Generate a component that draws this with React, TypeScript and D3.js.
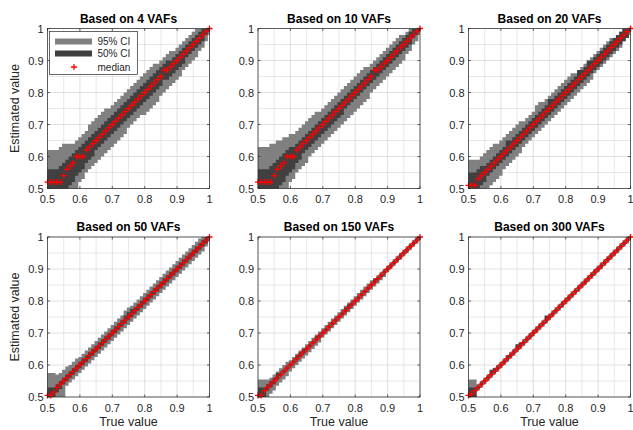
import React, { useEffect, useRef } from "react";
import * as d3 from "d3";

// all values in hundredths (50 = 0.5, 100 = 1)
const trueValues = [50, 51, 52, 53, 54, 55, 56, 57, 58, 59, 60, 61, 62, 63, 64, 65, 66, 67, 68, 69, 70, 71, 72, 73, 74, 75, 76, 77, 78, 79, 80, 81, 82, 83, 84, 85, 86, 87, 88, 89, 90, 91, 92, 93, 94, 95, 96, 97, 98, 99, 100];
const majorTicks = [50, 60, 70, 80, 90, 100];
const tickLabels = ["0.5", "0.6", "0.7", "0.8", "0.9", "1"];
const minorTicks = [55, 65, 75, 85, 95];
const titles = ["Based on 4 VAFs", "Based on 10 VAFs", "Based on 20 VAFs", "Based on 50 VAFs", "Based on 150 VAFs", "Based on 300 VAFs"];

// 4 VAFs
const med4 = [52, 52, 52, 52, 52, 54, 56, 57, 58, 60, 60, 60, 62, 63, 64, 65, 66, 67, 68, 69, 70, 71, 72, 73, 74, 75, 76, 77, 78, 79, 80, 81, 82, 83, 84, 85, 87, 87, 88, 89, 90, 91, 92, 93, 94, 95, 96, 97, 98, 99, 100];
const lo95_4 = [45, 45, 45, 45, 45, 45, 45, 45, 45, 45, 52, 53, 55, 56, 57, 58, 59, 60, 61, 62, 63, 64, 65, 66, 67, 69, 70, 71, 72, 73, 73, 74, 75, 76, 77, 79, 80, 81, 82, 83, 84, 85, 87, 88, 89, 90, 91, 93, 94, 96, 98];
const hi95_4 = [62, 62, 62, 62, 63, 64, 64, 64, 64, 65, 66, 67, 68, 70, 71, 72, 73, 74, 75, 75, 76, 77, 78, 79, 80, 81, 82, 83, 84, 85, 86, 87, 88, 89, 89, 90, 91, 92, 93, 93, 94, 95, 96, 97, 98, 99, 100, 100, 100, 100, 100];
const lo50_4 = [45, 45, 45, 45, 45, 45, 45, 51, 52, 54, 55, 56, 58, 59, 60, 62, 63, 64, 65, 66, 67, 68, 69, 70, 71, 72, 73, 74, 75, 76, 77, 78, 79, 80, 81, 82, 84, 84, 85, 86, 87, 88, 89, 91, 92, 93, 94, 95, 96, 98, 99];
const hi50_4 = [56, 56, 56, 56, 57, 58, 59, 60, 61, 62, 63, 64, 65, 66, 67, 68, 69, 70, 71, 72, 73, 74, 75, 76, 77, 78, 79, 80, 81, 82, 83, 84, 85, 86, 87, 88, 89, 90, 90, 91, 92, 93, 94, 95, 96, 97, 98, 99, 100, 100, 100];

// 10 VAFs
const med10 = [52, 52, 52, 52, 52, 54, 56, 57, 58, 60, 60, 60, 62, 63, 64, 65, 66, 67, 68, 69, 70, 71, 72, 73, 74, 75, 76, 77, 78, 79, 80, 81, 82, 83, 84, 85, 87, 87, 88, 89, 90, 91, 92, 93, 94, 95, 96, 97, 98, 99, 100];
const lo95_10 = [45, 45, 45, 45, 45, 45, 45, 45, 45, 45, 52, 53, 55, 56, 57, 58, 60, 61, 62, 63, 64, 65, 66, 67, 68, 69, 70, 71, 72, 73, 74, 75, 76, 77, 78, 80, 81, 82, 83, 84, 85, 86, 87, 88, 89, 90, 92, 93, 95, 96, 98];
const hi95_10 = [63, 63, 63, 63, 64, 64, 65, 65, 66, 66, 67, 67, 68, 69, 70, 71, 72, 73, 74, 74, 75, 76, 77, 78, 79, 80, 81, 82, 83, 84, 85, 86, 87, 88, 88, 89, 90, 91, 92, 93, 94, 95, 96, 97, 98, 98, 99, 100, 100, 100, 100];
const lo50_10 = [45, 45, 45, 45, 45, 45, 45, 51, 52, 54, 55, 56, 58, 59, 61, 62, 63, 64, 65, 66, 67, 68, 69, 70, 71, 72, 73, 75, 76, 77, 78, 79, 80, 81, 82, 83, 84, 85, 86, 87, 88, 89, 90, 91, 92, 93, 94, 95, 97, 98, 99];
const hi50_10 = [56, 56, 56, 56, 57, 58, 59, 60, 61, 62, 63, 63, 64, 65, 66, 67, 68, 69, 70, 71, 72, 73, 74, 75, 76, 77, 78, 79, 80, 81, 82, 83, 84, 85, 86, 87, 88, 89, 90, 91, 92, 93, 94, 95, 96, 97, 98, 99, 100, 100, 100];

// 20 VAFs
const med20 = [51, 51, 51, 53, 54, 55, 56, 57, 58, 59, 60, 61, 62, 63, 64, 65, 66, 67, 68, 69, 70, 71, 72, 73, 74, 75, 76, 77, 78, 79, 80, 81, 82, 83, 84, 85, 86, 87, 88, 89, 90, 91, 92, 93, 94, 95, 96, 97, 98, 99, 100];
const lo95_20 = [45, 45, 45, 45, 45, 45, 50, 51, 52, 53, 54, 56, 57, 58, 59, 60, 61, 63, 64, 65, 66, 67, 68, 69, 70, 71, 72, 73, 74, 75, 76, 77, 78, 79, 80, 81, 82, 83, 84, 86, 87, 88, 89, 90, 91, 92, 93, 94, 96, 97, 98];
const hi95_20 = [59, 59, 59, 59, 60, 61, 62, 63, 64, 64, 65, 66, 67, 68, 69, 70, 71, 71, 72, 73, 74, 76, 77, 77, 78, 79, 80, 81, 82, 83, 84, 85, 86, 86, 87, 88, 89, 90, 91, 92, 93, 94, 95, 96, 97, 97, 98, 99, 100, 100, 100];
const lo50_20 = [45, 45, 45, 50, 51, 52, 54, 55, 56, 57, 58, 59, 60, 61, 62, 63, 64, 65, 66, 67, 68, 69, 70, 71, 72, 73, 74, 75, 76, 77, 78, 79, 80, 81, 82, 83, 84, 85, 86, 87, 88, 89, 90, 91, 92, 93, 94, 95, 96, 97, 99];
const hi50_20 = [55, 55, 55, 56, 57, 57, 58, 59, 60, 61, 62, 63, 65, 65, 66, 67, 68, 69, 70, 71, 72, 73, 74, 75, 76, 78, 78, 79, 80, 81, 82, 83, 84, 85, 87, 87, 88, 90, 90, 91, 92, 93, 94, 95, 96, 97, 98, 99, 100, 100, 100];

// 50 VAFs
const med50 = [50.5, 50.5, 51.5, 53, 54, 55, 56, 57, 58, 59, 60, 61, 62, 63, 64, 65, 66, 67, 68, 69, 70, 71, 72, 73, 74, 75, 76, 77, 78, 79, 80, 81, 82, 83, 84, 85, 86, 87, 88, 89, 90, 91, 92, 93, 94, 95, 96, 97, 98, 99, 100];
const lo95_50 = [45, 45, 45, 45, 45, 45, 53.5, 54.5, 55.5, 56.5, 57.5, 58.5, 59.5, 60.5, 61.5, 62.5, 63.5, 64.5, 65.5, 66.5, 67.5, 68.5, 69.5, 70.5, 71.5, 72.5, 73.5, 74.5, 75.5, 76.5, 77.5, 78.5, 79.5, 80.5, 81.5, 82.5, 83.5, 84.5, 85.5, 86.5, 87.5, 88.5, 89.5, 90.5, 91.5, 92.5, 93.5, 94.5, 95.5, 97, 98.5];
const hi95_50 = [57.5, 57.5, 57.5, 57, 57.5, 58.5, 59.5, 60, 61, 62, 62.5, 63.5, 64.5, 65.5, 66.5, 67.5, 68.5, 69.5, 70.5, 71.5, 72.5, 73.5, 74.5, 75.5, 77, 78, 78.5, 79.5, 80.5, 81.5, 82.5, 83.5, 84.5, 85.5, 86.5, 87.5, 88.5, 89.5, 90.5, 91.5, 92.5, 93.5, 94.5, 95.5, 96.5, 97.5, 98.5, 99.5, 100, 100, 100];
const lo50_50 = [45, 45, 45, 51.5, 52.5, 54, 55, 56, 57, 58, 59, 60, 61, 62, 63, 64, 65, 66, 67, 68, 69, 70, 71, 72, 73, 74, 75, 76, 77, 78, 79, 80, 81, 82, 83, 84, 85, 86, 87, 88, 89, 90, 91, 92, 93, 94, 95, 96, 97, 98, 99.5];
const hi50_50 = [53, 53, 53, 54, 55, 56, 57, 58, 59, 60, 61, 62, 63, 64, 65, 66, 67, 68, 69, 70, 71, 72, 73, 74, 75.5, 76.5, 77.5, 78, 79, 80, 81, 82, 83, 84, 85, 86, 87, 88, 89, 90, 91, 92, 93, 94, 95, 96, 97, 98, 99, 100, 100];

// 150 VAFs
const med150 = [50.5, 50.5, 52, 53, 54, 55, 56, 57, 58, 59, 60, 61, 62, 63, 64, 65, 66, 67, 68, 69, 70, 71, 72, 73, 74, 75, 76, 77, 78, 79, 80, 81, 82, 83, 84, 85, 86, 87, 88, 89, 90, 91, 92, 93, 94, 95, 96, 97, 98, 99, 100];
const lo95_150 = [45, 45, 45, 50, 51, 52, 53.5, 54.5, 55.5, 56.5, 58, 59, 60, 61, 62, 63, 64, 65, 66, 67, 68.5, 69.5, 70.5, 71.5, 72.5, 73.5, 74.5, 75.5, 76.5, 77.5, 78.5, 79.5, 80.5, 81.5, 82.5, 83.5, 84.5, 85.5, 86.5, 87.5, 89, 90, 91, 92, 93, 94, 95, 96, 97, 98, 99];
const hi95_150 = [55.5, 55.5, 55.5, 55.5, 56, 57, 58, 59, 60, 61, 61.5, 62.5, 63.5, 64.5, 65.5, 66.5, 67.5, 68.5, 69.5, 70.5, 71.5, 72.5, 73.5, 74.5, 75.5, 76.5, 77.5, 78.5, 79.5, 80.5, 81.5, 82.5, 83.5, 84.5, 85.5, 86.5, 87, 88, 89, 90, 91, 92, 93, 94, 95, 96, 97, 98, 99, 100, 100];
const lo50_150 = [45, 45, 49.5, 52, 53, 54, 55.5, 56.5, 57.5, 58.5, 59.5, 60.5, 61.5, 62.5, 63.5, 64.5, 65.5, 66.5, 67.5, 68.5, 69.5, 70.5, 71.5, 72.5, 73.5, 74.5, 75.5, 76.5, 77.5, 78.5, 79.5, 80.5, 81.5, 82.5, 83.5, 84.5, 85.5, 86.5, 87.5, 88.5, 89.5, 90.5, 91.5, 92.5, 93.5, 94.5, 95.5, 96.5, 97.5, 98.5, 99.5];
const hi50_150 = [53, 53, 53, 54, 55, 56, 57.5, 57.5, 58.5, 59.5, 60.5, 61.5, 63, 64, 65, 65.5, 66.5, 67.5, 69, 69.5, 70.5, 71.5, 72.5, 73.5, 74.5, 75.5, 76.5, 78, 79, 79.5, 80.5, 81.5, 82.5, 83.5, 84.5, 85.5, 87, 87.5, 88.5, 89.5, 90.5, 91.5, 92.5, 93.5, 94.5, 95.5, 96.5, 97.5, 98.5, 99.5, 100];

// 300 VAFs
const med300 = [50.5, 51, 52, 53, 54, 55, 56, 57, 58, 59, 60, 61, 62, 63, 64, 65, 66, 67, 68, 69, 70, 71, 72, 73, 74, 75, 76, 77, 78, 79, 80, 81, 82, 83, 84, 85, 86, 87, 88, 89, 90, 91, 92, 93, 94, 95, 96, 97, 98, 99, 100];
const lo95_300 = [45, 45, 45, 52, 53, 54, 55, 56, 57, 58, 59, 60, 61, 62, 63, 64, 65, 66, 67, 68, 69, 70, 71, 72, 73, 74, 75, 76, 77, 78, 79, 80, 81, 82, 83, 84, 85, 86, 87, 88, 89, 90, 91, 92, 93, 94, 95, 96, 97, 98, 99];
const hi95_300 = [55.5, 55.5, 55.5, 54, 55, 56, 57, 58, 59, 60, 61, 62, 63, 64, 65, 66, 67, 68, 69, 70, 71, 72, 73, 74, 75, 76, 77, 78, 79, 80, 81, 82, 83, 84, 85, 86, 87, 88, 89, 90, 91, 92, 93, 94, 95, 96, 97, 98, 99, 100, 100];
const lo50_300 = [45, 45, 49.5, 52.5, 53.5, 54.5, 55.5, 56.5, 57.5, 58.5, 59.5, 60.5, 61.5, 62.5, 63.5, 64.5, 65.5, 66.5, 67.5, 68.5, 69.5, 70.5, 71.5, 72.5, 73.5, 74.5, 75.5, 76.5, 77.5, 78.5, 79.5, 80.5, 81.5, 82.5, 83.5, 84.5, 85.5, 86.5, 87.5, 88.5, 89.5, 90.5, 91.5, 92.5, 93.5, 94.5, 95.5, 96.5, 97.5, 98.5, 99.5];
const hi50_300 = [53, 53, 53, 53.5, 54.5, 55.5, 56.5, 58.5, 59, 59.5, 60.5, 61.5, 63, 63.5, 64.5, 66.5, 67, 67.5, 68.5, 69.5, 70.5, 71.5, 72.5, 73.5, 75.5, 75.5, 76.5, 77.5, 78.5, 79.5, 80.5, 81.5, 82.5, 83.5, 84.5, 85.5, 86.5, 87.5, 88.5, 89.5, 90.5, 91.5, 92.5, 93.5, 94.5, 95.5, 96.5, 97.5, 98.5, 99.5, 100];

const panels = [
  { med: med4, lo95: lo95_4, hi95: hi95_4, lo50: lo50_4, hi50: hi50_4 },
  { med: med10, lo95: lo95_10, hi95: hi95_10, lo50: lo50_10, hi50: hi50_10 },
  { med: med20, lo95: lo95_20, hi95: hi95_20, lo50: lo50_20, hi50: hi50_20 },
  { med: med50, lo95: lo95_50, hi95: hi95_50, lo50: lo50_50, hi50: hi50_50 },
  { med: med150, lo95: lo95_150, hi95: hi95_150, lo50: lo50_150, hi50: hi50_150 },
  { med: med300, lo95: lo95_300, hi95: hi95_300, lo50: lo50_300, hi50: hi50_300 },
];

const W = 633;
const H = 430;
const colLeft = [47.5, 258, 468.5];
const rowTop = [28.5, 237];
const pw = 162;
const ph = 160;
const FONT = "'Liberation Sans', Arial, Helvetica, sans-serif";
const AX = "#262626";
const LIGHT = "#808080";
const DARK = "#404040";

const App = () => {
  const svgRef = useRef<SVGSVGElement>(null);

  useEffect(() => {
    const root = d3.select(svgRef.current);
    root.selectAll("*").remove();
    root.attr("width", W).attr("height", H);
    root.append("rect").attr("width", W).attr("height", H).attr("fill", "#fff");

    const x = d3.scaleLinear().domain([50, 100]).range([0, pw]);
    const y = d3.scaleLinear().domain([50, 100]).range([ph, 0]);
    const line = d3
      .line<[number, number]>()
      .x((d) => x(d[0]))
      .y((d) => y(d[1]));

    // stepped band: one 0.01-wide column per true value
    const stairs = (lo: number[], hi: number[]) => {
      const pts: [number, number][] = [];
      trueValues.forEach((v, i) => {
        pts.push([v - 0.5, hi[i]], [v + 0.5, hi[i]]);
      });
      for (let i = trueValues.length - 1; i >= 0; i--) {
        const v = trueValues[i];
        pts.push([v + 0.5, lo[i]], [v - 0.5, lo[i]]);
      }
      return line(pts) + "Z";
    };

    const plus = "M-3,0H3M0,-3V3";

    panels.forEach((p, i) => {
      const col = i % 3;
      const row = Math.floor(i / 3);
      const g = root
        .append("g")
        .attr("transform", `translate(${colLeft[col]},${rowTop[row]})`);

      const clipId = `clip${i}`;
      g.append("clipPath")
        .attr("id", clipId)
        .append("rect")
        .attr("width", pw)
        .attr("height", ph);

      // grid
      const grid = g.append("g");
      minorTicks.forEach((t) => {
        grid.append("line").attr("x1", x(t)).attr("x2", x(t)).attr("y1", 0).attr("y2", ph)
          .attr("stroke", "#dedede").attr("stroke-width", 0.7);
        grid.append("line").attr("y1", y(t)).attr("y2", y(t)).attr("x1", 0).attr("x2", pw)
          .attr("stroke", "#dedede").attr("stroke-width", 0.7);
      });
      majorTicks.forEach((t) => {
        grid.append("line").attr("x1", x(t)).attr("x2", x(t)).attr("y1", 0).attr("y2", ph)
          .attr("stroke", "#d2d2d2").attr("stroke-width", 0.7);
        grid.append("line").attr("y1", y(t)).attr("y2", y(t)).attr("x1", 0).attr("x2", pw)
          .attr("stroke", "#d2d2d2").attr("stroke-width", 0.7);
      });

      const bands = g.append("g").attr("clip-path", `url(#${clipId})`);
      bands.append("path").attr("d", stairs(p.lo95, p.hi95)).attr("fill", LIGHT);
      bands.append("path").attr("d", stairs(p.lo50, p.hi50)).attr("fill", DARK);

      g.append("g")
        .selectAll("path")
        .data(trueValues)
        .enter()
        .append("path")
        .attr("d", plus)
        .attr("transform", (d, k) => `translate(${x(d)},${y(p.med[k])})`)
        .attr("stroke", "#ff0000")
        .attr("stroke-width", 1.3)
        .attr("fill", "none");

      // axes box and ticks
      g.append("rect").attr("width", pw).attr("height", ph).attr("fill", "none")
        .attr("stroke", AX).attr("stroke-width", 0.7);
      const tl = 2.5;
      majorTicks.forEach((t) => {
        g.append("line").attr("x1", x(t)).attr("x2", x(t)).attr("y1", ph).attr("y2", ph - tl).attr("stroke", AX).attr("stroke-width", 0.7);
        g.append("line").attr("x1", x(t)).attr("x2", x(t)).attr("y1", 0).attr("y2", tl).attr("stroke", AX).attr("stroke-width", 0.7);
        g.append("line").attr("y1", y(t)).attr("y2", y(t)).attr("x1", 0).attr("x2", tl).attr("stroke", AX).attr("stroke-width", 0.7);
        g.append("line").attr("y1", y(t)).attr("y2", y(t)).attr("x1", pw).attr("x2", pw - tl).attr("stroke", AX).attr("stroke-width", 0.7);
      });

      majorTicks.forEach((t, k) => {
        g.append("text").attr("x", x(t)).attr("y", ph + 14.5).attr("text-anchor", "middle")
          .attr("font-family", FONT).attr("font-size", 11).attr("fill", AX).text(tickLabels[k]);
        g.append("text").attr("x", -4).attr("y", y(t) + 4).attr("text-anchor", "end")
          .attr("font-family", FONT).attr("font-size", 11).attr("fill", AX).text(tickLabels[k]);
      });

      g.append("text").attr("x", pw / 2).attr("y", -6).attr("text-anchor", "middle")
        .attr("font-family", FONT).attr("font-size", 12).attr("font-weight", "bold")
        .attr("fill", "#000").text(titles[i]);

      if (col === 0) {
        g.append("text")
          .attr("transform", `translate(${-29},${ph / 2}) rotate(-90)`)
          .attr("text-anchor", "middle")
          .attr("font-family", FONT).attr("font-size", 12.5).attr("fill", AX)
          .text("Estimated value");
      }
      if (row === 1) {
        g.append("text").attr("x", pw / 2).attr("y", ph + 29).attr("text-anchor", "middle")
          .attr("font-family", FONT).attr("font-size", 12.5).attr("fill", AX)
          .text("True value");
      }

      if (i === 0) {
        const lg = g.append("g").attr("transform", "translate(2,3)");
        lg.append("rect").attr("width", 88).attr("height", 43).attr("fill", "#fff")
          .attr("stroke", AX).attr("stroke-width", 0.7);
        const entries = [
          { label: "95% CI", color: LIGHT, yy: 10 },
          { label: "50% CI", color: DARK, yy: 22 },
        ];
        entries.forEach((e) => {
          lg.append("line").attr("x1", 5.5).attr("x2", 42.5).attr("y1", e.yy).attr("y2", e.yy)
            .attr("stroke", e.color).attr("stroke-width", 6);
          lg.append("text").attr("x", 48).attr("y", e.yy + 3.5).attr("font-family", FONT)
            .attr("font-size", 10).attr("fill", AX).text(e.label);
        });
        lg.append("path").attr("d", plus).attr("transform", "translate(24.5,35.5)")
          .attr("stroke", "#ff0000").attr("stroke-width", 1.3).attr("fill", "none");
        lg.append("text").attr("x", 48).attr("y", 39).attr("font-family", FONT)
          .attr("font-size", 10).attr("fill", AX).text("median");
      }
    });
  }, []);

  return <svg ref={svgRef} style={{ position: "absolute", left: 0, top: 0 }}></svg>;
};

export default App;
